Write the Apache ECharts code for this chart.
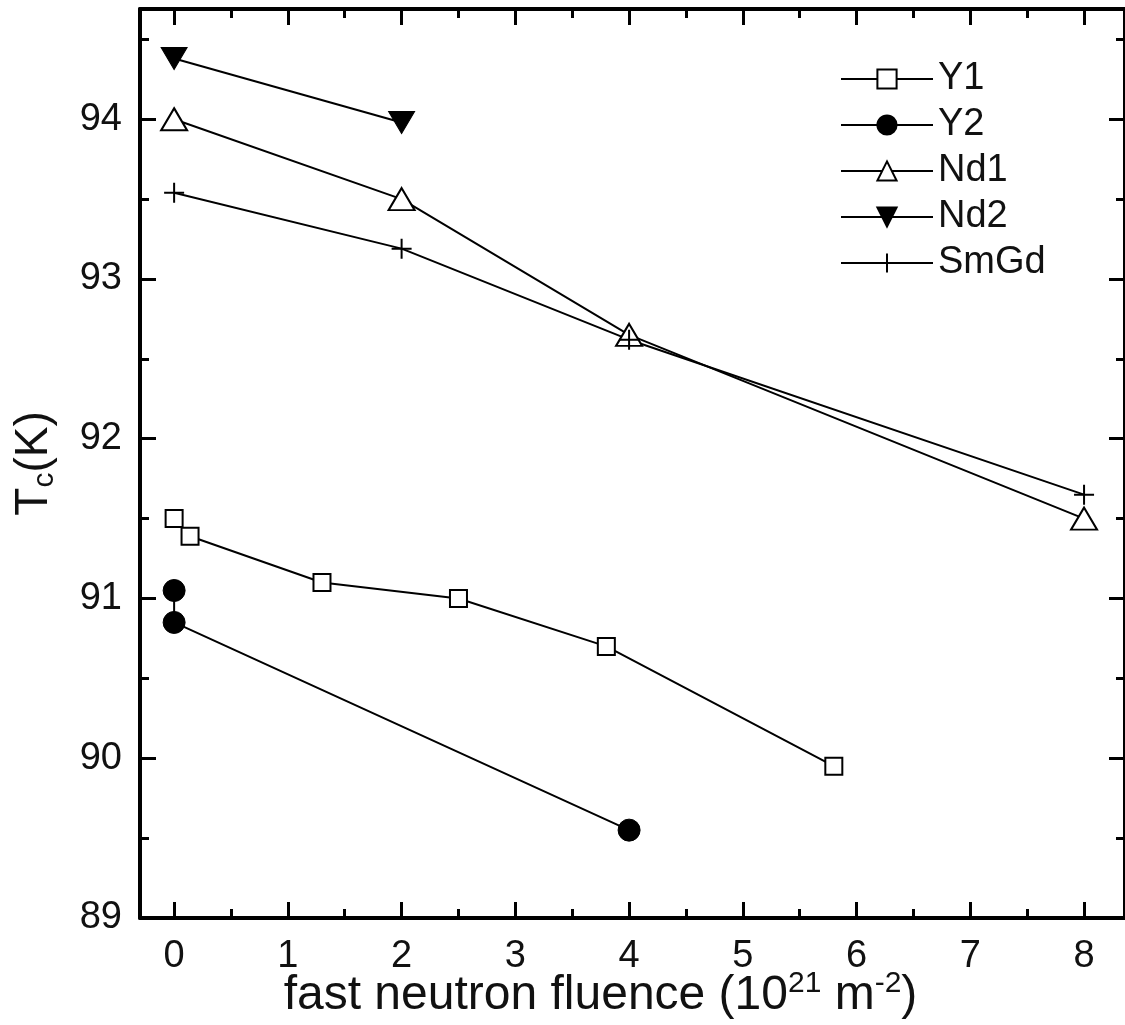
<!DOCTYPE html>
<html>
<head>
<meta charset="utf-8">
<script src="https://cdn.jsdelivr.net/npm/echarts@6/dist/echarts.min.js"></script>
<style>
  html, body { margin: 0; padding: 0; background: #fff; }
  #chart { width: 1125px; height: 1025px; }
</style>
</head>
<body>
<div id="chart"></div>
<script>
// fast neutron fluence (10^21 m^-2) vs Tc (K)
const y1Fluence = [0, 0.14, 1.3, 2.5, 3.8, 5.8];
const y1Tc = [91.5, 91.39, 91.1, 91.0, 90.7, 89.95];
const y2Fluence = [0, 0, 4];
const y2Tc = [91.05, 90.85, 89.55];
const nd1Fluence = [0, 2, 4, 8];
const nd1Tc = [94.0, 93.5, 92.65, 91.5];
const nd2Fluence = [0, 2];
const nd2Tc = [94.38, 93.98];
const smgdFluence = [0, 2, 4, 8];
const smgdTc = [93.54, 93.19, 92.62, 91.65];

const seriesNames = ['Y1', 'Y2', 'Nd1', 'Nd2', 'SmGd'];

const font = "'Liberation Sans', Arial, sans-serif";

function zip(xs, ys) {
  return xs.map((x, i) => [x, ys[i]]);
}

// only integer ticks get a label
function intLabel(v) {
  return Math.abs(v - Math.round(v)) < 1e-6 ? String(Math.round(v)) : '';
}

const frameLine = { onZero: false, lineStyle: { color: '#000', width: 4 } };
const majorTick = { inside: true, length: 16, lineStyle: { color: '#000', width: 3 } };
const minorTick = { show: true, splitNumber: 2, length: 9, lineStyle: { color: '#000', width: 3 } };

function xAxisDef(pos, withLabels) {
  return {
    type: 'value',
    position: pos,
    min: -0.3,
    max: 8.36,
    splitNumber: 8,
    axisLine: frameLine,
    axisTick: majorTick,
    minorTick: minorTick,
    splitLine: { show: false },
    axisLabel: {
      show: withLabels, margin: 20, fontSize: 38, color: '#111', fontFamily: font,
      formatter: intLabel
    }
  };
}

function yAxisDef(pos, withLabels) {
  return {
    type: 'value',
    position: pos,
    min: 89,
    max: 94.69,
    interval: 1,
    axisLine: frameLine,
    axisTick: majorTick,
    minorTick: minorTick,
    splitLine: { show: false },
    axisLabel: {
      show: withLabels, margin: 18, fontSize: 38, color: '#111', fontFamily: font,
      formatter: intLabel
    }
  };
}

const xBottom = xAxisDef('bottom', true);
xBottom.name = '{t|fast neutron fluence (10}{s|21}{t| m}{s|-2}{t|)}';
xBottom.nameLocation = 'middle';
xBottom.nameGap = 51;
xBottom.nameMoveOverlap = false;
xBottom.nameTextStyle = {
  color: '#111',
  padding: [0, 64, 0, 0],
  rich: {
    t: { fontSize: 48, lineHeight: 54, fontFamily: font, color: '#111' },
    s: { fontSize: 30, lineHeight: 30, fontFamily: font, color: '#111', verticalAlign: 'top' }
  }
};

const yLeft = yAxisDef('left', true);
yLeft.name = '{t|T}{s|c}{t|(K)}';
yLeft.nameLocation = 'middle';
yLeft.nameGap = 80;
yLeft.nameMoveOverlap = false;
yLeft.nameTextStyle = {
  color: '#111',
  rich: {
    t: { fontSize: 46, lineHeight: 52, fontFamily: font, color: '#111' },
    s: { fontSize: 30, lineHeight: 30, fontFamily: font, color: '#111', verticalAlign: 'bottom' }
  }
};

const lineStyle = { color: '#000', width: 2 };
const openMarker = { color: '#fff', borderColor: '#000', borderWidth: 2 };
const filledMarker = { color: '#000', borderColor: '#000', borderWidth: 1 };

const chart = echarts.init(document.getElementById('chart'), null, { renderer: 'canvas' });

chart.setOption({
  backgroundColor: '#fff',
  animation: false,
  grid: { left: 140, right: 0, top: 9, bottom: 107, containLabel: false, outerBoundsMode: 'none' },
  legend: {
    data: seriesNames,
    orient: 'vertical',
    left: 835,
    top: 55,
    itemWidth: 92,
    itemHeight: 24,
    itemGap: 8,
    textStyle: { fontSize: 38, color: '#111', fontFamily: font }
  },
  xAxis: [xBottom, xAxisDef('top', false)],
  yAxis: [yLeft, yAxisDef('right', false)],
  series: [
    {
      name: 'Y1', type: 'line', data: zip(y1Fluence, y1Tc),
      symbol: 'rect', symbolSize: 17,
      itemStyle: openMarker, lineStyle: lineStyle
    },
    {
      name: 'Y2', type: 'line', data: zip(y2Fluence, y2Tc),
      symbol: 'circle', symbolSize: 22,
      itemStyle: filledMarker, lineStyle: lineStyle
    },
    {
      name: 'Nd1', type: 'line', data: zip(nd1Fluence, nd1Tc),
      symbol: 'triangle', symbolSize: [26, 22],
      itemStyle: openMarker, lineStyle: lineStyle
    },
    {
      name: 'Nd2', type: 'line', data: zip(nd2Fluence, nd2Tc),
      symbol: 'triangle', symbolRotate: 180, symbolSize: [26, 22],
      itemStyle: filledMarker, lineStyle: lineStyle
    },
    {
      name: 'SmGd', type: 'line', data: zip(smgdFluence, smgdTc),
      symbol: 'path://M10,0V20M0,10H20', symbolSize: 20,
      itemStyle: { color: 'none', borderColor: '#000', borderWidth: 2 },
      lineStyle: lineStyle
    }
  ].map(s => Object.assign(s, { xAxisIndex: 0, yAxisIndex: 0, emphasis: { disabled: true } }))
});
</script>
</body>
</html>
